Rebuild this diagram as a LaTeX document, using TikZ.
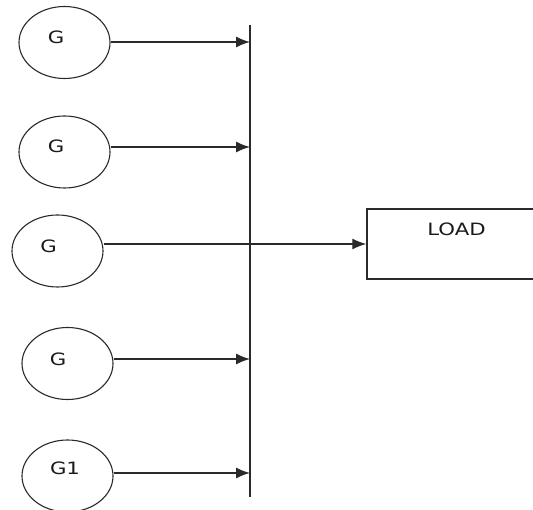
\documentclass[tikz,border=0pt]{standalone}
\usepackage{fontspec}
\setmainfont{DejaVu Sans}
\usetikzlibrary{shapes.geometric,arrows.meta}
\newcommand\widetxt[1]{\scalebox{1.25}[1]{#1}}
\definecolor{ln}{HTML}{2A2A2A}
\definecolor{tx}{HTML}{1A1A1A}
\tikzset{
  gen/.style={draw=ln, ellipse, minimum width=91pt, minimum height=72pt, inner sep=0pt, line width=1.1pt},
  txt/.style={font=\fontsize{17}{17}\selectfont, text=tx, inner sep=0pt},
  arr/.style={draw=ln, line width=1.3pt, -{Latex[length=14pt,width=11pt]}},
  busline/.style={draw=ln, line width=1.8pt},
  loadbox/.style={draw=ln, rectangle, line width=1.4pt, minimum width=200pt, minimum height=70pt, inner sep=0pt}
}
\begin{document}
\begin{tikzpicture}[x=1pt,y=-1pt]
\useasboundingbox (0,0) rectangle (533,510);
\clip (0,0) rectangle (533,510);
% generators
\node[gen] (g1) at (64.5,42.5) {};
\node[gen] (g2) at (64.5,152) {};
\node[gen] (g3) at (57.5,251) {};
\node[gen] (g4) at (67.5,363.5) {};
\node[gen] (g5) at (67.5,476) {};
\node[txt] (t1) at (56,37.5) {\widetxt{G}};
\node[txt] (t2) at (56,146) {\widetxt{G}};
\node[txt] (t3) at (48.5,246) {\widetxt{G}};
\node[txt] (t4) at (58,359) {\widetxt{G}};
\node[txt] (t5) at (65,468.5) {\widetxt{G1}};
% bus
\coordinate (btop) at (250,25);
\coordinate (bbot) at (250,497);
\coordinate (b1) at (250,42);
\coordinate (b2) at (250,147);
\coordinate (b4) at (250,359);
\coordinate (b5) at (250,473);
\draw[busline] (btop) -- (bbot);
% load
\node[loadbox] (load) at (467,244) {};
\node[txt] (lt) at (456.5,229.5) {\widetxt{LOAD}};
% connectors
\draw[arr] (g1.east |- b1) -- (b1);
\draw[arr] (g2.east |- b2) -- (b2);
\draw[arr] (g3.east |- load.west) -- (load.west);
\draw[arr] (g4.east |- b4) -- (b4);
\draw[arr] (g5.east |- b5) -- (b5);
\end{tikzpicture}
\end{document}
